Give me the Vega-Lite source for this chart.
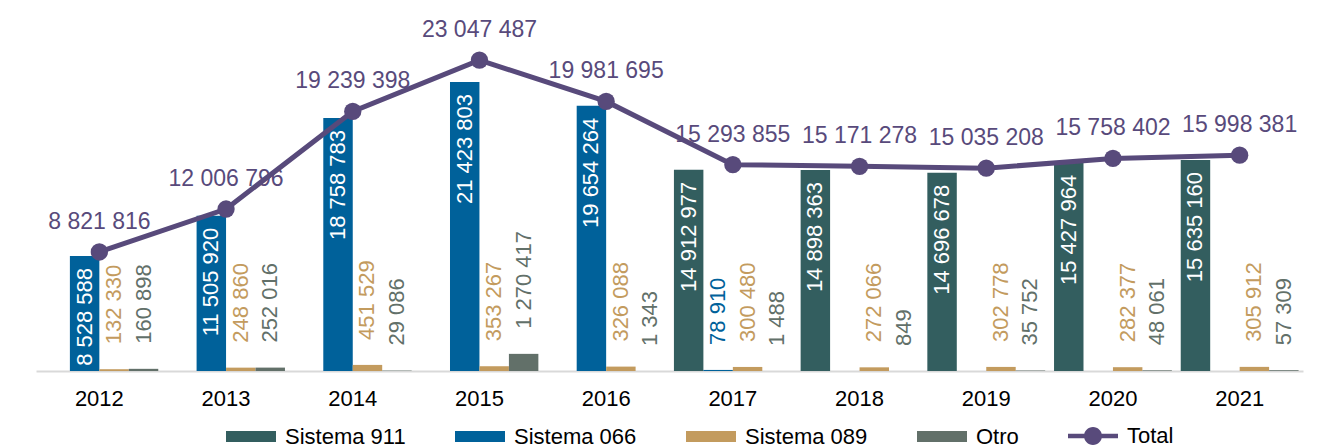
{
  "$schema": "https://vega.github.io/schema/vega-lite/v6.json",
  "width": 1267,
  "height": 371,
  "autosize": {"type": "none"},
  "padding": {"left": 36, "top": 0, "right": 30, "bottom": 77},
  "config": {
    "font": "Liberation Sans",
    "view": {"stroke": null},
    "locale": {"number": {"decimal": ",", "thousands": " ", "grouping": [3], "currency": ["", ""]}},
    "axis": {"grid": false}
  },
  "datasets": {
    "bars": [
      {"year": "2012", "series": "Sistema 066", "value": 8528588},
      {"year": "2012", "series": "Sistema 089", "value": 132330},
      {"year": "2012", "series": "Otro", "value": 160898},
      {"year": "2013", "series": "Sistema 066", "value": 11505920},
      {"year": "2013", "series": "Sistema 089", "value": 248860},
      {"year": "2013", "series": "Otro", "value": 252016},
      {"year": "2014", "series": "Sistema 066", "value": 18758783},
      {"year": "2014", "series": "Sistema 089", "value": 451529},
      {"year": "2014", "series": "Otro", "value": 29086},
      {"year": "2015", "series": "Sistema 066", "value": 21423803},
      {"year": "2015", "series": "Sistema 089", "value": 353267},
      {"year": "2015", "series": "Otro", "value": 1270417},
      {"year": "2016", "series": "Sistema 066", "value": 19654264},
      {"year": "2016", "series": "Sistema 089", "value": 326088},
      {"year": "2016", "series": "Otro", "value": 1343},
      {"year": "2017", "series": "Sistema 911", "value": 14912977},
      {"year": "2017", "series": "Sistema 066", "value": 78910},
      {"year": "2017", "series": "Sistema 089", "value": 300480},
      {"year": "2017", "series": "Otro", "value": 1488},
      {"year": "2018", "series": "Sistema 911", "value": 14898363},
      {"year": "2018", "series": "Sistema 089", "value": 272066},
      {"year": "2018", "series": "Otro", "value": 849},
      {"year": "2019", "series": "Sistema 911", "value": 14696678},
      {"year": "2019", "series": "Sistema 089", "value": 302778},
      {"year": "2019", "series": "Otro", "value": 35752},
      {"year": "2020", "series": "Sistema 911", "value": 15427964},
      {"year": "2020", "series": "Sistema 089", "value": 282377},
      {"year": "2020", "series": "Otro", "value": 48061},
      {"year": "2021", "series": "Sistema 911", "value": 15635160},
      {"year": "2021", "series": "Sistema 089", "value": 305912},
      {"year": "2021", "series": "Otro", "value": 57309}
    ],
    "totals": [
      {"year": "2012", "total": 8821816},
      {"year": "2013", "total": 12006796},
      {"year": "2014", "total": 19239398},
      {"year": "2015", "total": 23047487},
      {"year": "2016", "total": 19981695},
      {"year": "2017", "total": 15293855},
      {"year": "2018", "total": 15171278},
      {"year": "2019", "total": 15035208},
      {"year": "2020", "total": 15758402},
      {"year": "2021", "total": 15998381}
    ]
  },
  "encoding": {
    "x": {
      "field": "year", "type": "ordinal",
      "scale": {"paddingInner": 0.07, "paddingOuter": 0.035},
      "axis": {"title": null, "labelAngle": 0, "labelFontSize": 22, "labelColor": "#000000", "domainColor": "#D9D9D9", "domainWidth": 2, "ticks": false, "tickSize": 0, "labelPadding": 17}
    }
  },
  "layer": [
    {
      "data": {"name": "bars"},
      "mark": {"type": "bar"},
      "encoding": {
        "xOffset": {"field": "series", "type": "nominal", "scale": {"domain": ["Sistema 911", "Sistema 066", "Sistema 089", "Otro"], "paddingInner": 0, "paddingOuter": 0}},
        "y": {"field": "value", "type": "quantitative", "scale": {"domain": [0, 27500000], "nice": false}, "axis": null},
        "color": {
          "field": "series", "type": "nominal",
          "scale": {"domain": ["Sistema 911", "Sistema 066", "Sistema 089", "Otro", "Total"], "range": ["#335E5F", "#00619A", "#C39B5E", "#627069", "#584A7B"]},
          "legend": {
            "title": null, "orient": "none", "direction": "horizontal", "columns": 5,
            "legendX": 189, "legendY": 410,
            "symbolSize": 2500, "labelFontSize": 22, "labelColor": "#000000", "labelOffset": 8, "columnPadding": 46,
            "encode": {
              "symbols": {
                "update": {
                  "shape": {"signal": "datum.value === 'Total' ? 'M-1,-0.09H1V0.09H-1Z M0.36,0A0.36,0.36,0,1,1,-0.36,0A0.36,0.36,0,1,1,0.36,0Z' : 'M-1,-0.22H1V0.22H-1Z'"},
                  "fill": {"scale": "color", "field": "value"},
                  "stroke": {"value": "transparent"},
                  "opacity": {"value": 1}
                }
              }
            }
          }
        }
      }
    },
    {
      "data": {"name": "bars"},
      "transform": [{"filter": "datum.value > 5000000"}],
      "mark": {"type": "text", "angle": 270, "align": "right", "baseline": "middle", "dx": -12, "fontSize": 22, "color": "#FFFFFF"},
      "encoding": {
        "xOffset": {"field": "series", "type": "nominal"},
        "y": {"field": "value", "type": "quantitative"},
        "text": {"field": "value", "type": "quantitative", "format": ",d"}
      }
    },
    {
      "data": {"name": "bars"},
      "transform": [{"filter": "datum.value <= 5000000"}],
      "mark": {"type": "text", "angle": 270, "align": "left", "baseline": "middle", "dx": 25, "fontSize": 22},
      "encoding": {
        "xOffset": {"field": "series", "type": "nominal"},
        "y": {"field": "value", "type": "quantitative"},
        "color": {"field": "series", "type": "nominal", "legend": null},
        "text": {"field": "value", "type": "quantitative", "format": ",d"}
      }
    },
    {
      "data": {"name": "totals"},
      "mark": {"type": "line", "color": "#584A7B", "strokeWidth": 5},
      "encoding": {
        "y": {"field": "total", "type": "quantitative"}
      }
    },
    {
      "data": {"name": "totals"},
      "mark": {"type": "point", "filled": true, "shape": "circle", "size": 300, "color": "#584A7B", "opacity": 1},
      "encoding": {
        "y": {"field": "total", "type": "quantitative"}
      }
    },
    {
      "data": {"name": "totals"},
      "mark": {"type": "text", "align": "center", "baseline": "middle", "dy": -30, "fontSize": 23, "color": "#584A7B"},
      "encoding": {
        "y": {"field": "total", "type": "quantitative"},
        "text": {"field": "total", "type": "quantitative", "format": ",d"}
      }
    }
  ]
}
